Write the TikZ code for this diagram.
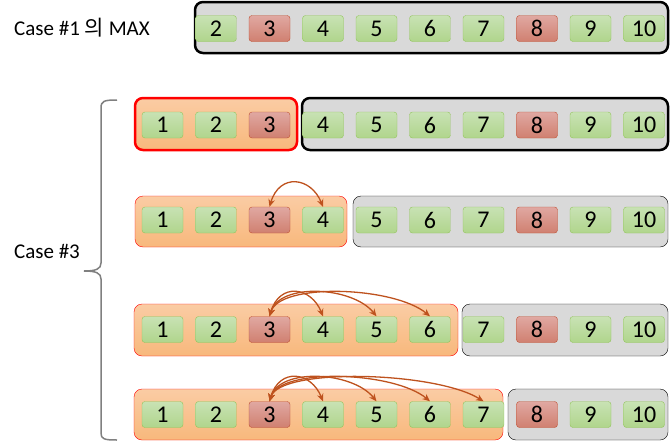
\documentclass[tikz,border=0pt]{standalone}
\usepackage{fontspec}
\setmainfont{Carlito}
\newfontfamily\krfont{Noto Sans CJK KR}
\usetikzlibrary{arrows.meta}
\definecolor{greenline}{RGB}{146,196,90}
\definecolor{greentop}{RGB}{200,226,180}
\definecolor{greenbot}{RGB}{176,213,140}
\definecolor{redline}{RGB}{190,80,50}
\definecolor{redtop}{RGB}{224,168,162}
\definecolor{redbot}{RGB}{208,128,112}
\definecolor{orangetop}{RGB}{250,204,164}
\definecolor{orangebot}{RGB}{248,184,124}
\definecolor{boxgrey}{RGB}{217,217,217}
\definecolor{swapc}{RGB}{190,82,30}

\begin{document}
\begin{tikzpicture}[x=1pt,y=-1pt,>={Stealth[length=7.5pt,width=6.5pt]},
  good/.style={draw=greenline,top color=greentop,bottom color=greenbot,rounded corners=3pt,
    minimum width=41pt,minimum height=26pt,inner sep=0pt,font=\fontsize{24}{26}\selectfont},
  bad/.style={good,draw=redline,top color=redtop,bottom color=redbot},
  restbox/.style={draw=black,fill=boxgrey,rounded corners=8pt},
  headbox/.style={draw=red,top color=orangetop,bottom color=orangebot,rounded corners=8pt},
  swap/.style={<->,draw=swapc,line width=1.3pt},
  label/.style={font=\fontsize{21}{23}\selectfont}]
\useasboundingbox (0,0) rectangle (672,442);

% boxes
\draw[restbox,line width=2.5pt] (195,2) rectangle (668,53);
\draw[headbox,line width=2.5pt] (135,98) rectangle (297,150);
\draw[restbox,line width=2.5pt] (302,98) rectangle (668,150);
\draw[headbox] (135,196) rectangle (347,247);
\draw[restbox] (353,196) rectangle (668,247);
\draw[headbox] (134,304) rectangle (458,356);
\draw[restbox] (462,304) rectangle (668,356);
\draw[headbox] (134,389) rectangle (503,440);
\draw[restbox] (508,389) rectangle (668,440);

% cells
\foreach \v/\s in {2/good,3/bad,4/good,5/good,6/good,7/good,8/bad,9/good,10/good}
  \node[\s] (r1-\v) at ({162.5+(\v-1)*53.5},28.5) {\v};
\foreach \r/\y in {2/125,3/220,4/329.5,5/414.5}
  \foreach \v/\s in {1/good,2/good,3/bad,4/good,5/good,6/good,7/good,8/bad,9/good,10/good}
    \node[\s] (r\r-\v) at ({162.5+(\v-1)*53.5},\y) {\v};

% swaps
\draw[swap] (r3-3.north) .. controls +(10,-34) and +(-12,-30) .. (r3-4.north);
\foreach \k in {4,5,6}
  \draw[swap] (r4-3.north) .. controls +(10,-34) and +({-12*(\k-3)},-30) .. (r4-\k.north);
\foreach \k in {4,5,6,7}
  \draw[swap] (r5-3.north) .. controls +(10,-34) and +({-12*(\k-3)},-30) .. (r5-\k.north);

% labels
\node[label] (case1) at (82,28) {Case \#1 {\krfont 의} MAX};
\node[label] (case3) at (47,251) {Case \#3};
\draw[gray,line width=1.5pt] (117,100) .. controls (104,100) and (101,101) .. (101,108) -- (101,263)
  .. controls (101,269) and (96,271) .. (84,271) .. controls (96,271) and (101,273) .. (101,279)
  -- (101,433) .. controls (101,439) and (104,440) .. (117,440);
\end{tikzpicture}
\end{document}
